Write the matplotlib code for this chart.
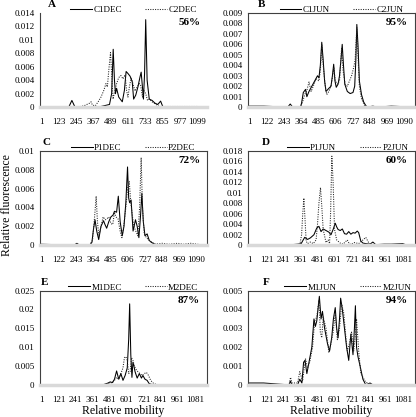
import matplotlib
matplotlib.use('Agg')
import matplotlib.pyplot as plt
from matplotlib.ticker import FuncFormatter

plt.rcParams['font.family'] = ['Liberation Serif', 'DejaVu Serif']

# パネルA (C1DEC / C2DEC)
a_x1 = [1, 150, 195, 215, 235, 300, 400, 460, 480, 495, 506, 515, 522, 530, 545, 570, 585, 597, 610, 625, 640, 650, 665, 680, 695, 703, 712, 719, 727, 735, 745, 760, 780, 800, 820, 840, 855, 900, 1000, 1160]
a_y1 = [0, 0, 0.0001, 0.001, 0.0001, 0, 0, 0.0003, 0.0004, 0.002, 0.0086, 0.004, 0.002, 0.0028, 0.0015, 0.0008, 0.0025, 0.0053, 0.005, 0.0046, 0.0038, 0.0012, 0.0018, 0.003, 0.0045, 0.0052, 0.003, 0.0012, 0.005, 0.013, 0.004, 0.0012, 0.001, 0.0006, 0.0004, 0.0009, 0.0001, 0, 0, 0]
a_x2 = [1, 250, 300, 340, 350, 360, 380, 400, 420, 440, 455, 465, 475, 487, 495, 505, 515, 530, 545, 560, 575, 590, 600, 610, 620, 632, 645, 660, 675, 690, 700, 712, 722, 735, 748, 760, 780, 800, 830, 900, 1000, 1100, 1160]
a_y2 = [0, 0, 0.0002, 0.0006, 0.0008, 0.0003, 0.0002, 0.0008, 0.0015, 0.0025, 0.0035, 0.003, 0.0055, 0.0081, 0.005, 0.0012, 0.0022, 0.0035, 0.0044, 0.0047, 0.0042, 0.0048, 0.0025, 0.0015, 0.003, 0.0043, 0.0035, 0.0024, 0.003, 0.0035, 0.0032, 0.0015, 0.0025, 0.002, 0.001, 0.0012, 0.0008, 0.0005, 0.0001, 0.0001, 0.0001, 0.0001, 0]

# パネルB (C1JUN / C2JUN)
b_x1 = [1, 100, 270, 288, 305, 360, 368, 380, 396, 405, 420, 440, 460, 480, 490, 500, 510, 520, 530, 540, 560, 575, 585, 594, 603, 612, 625, 635, 645, 654, 663, 672, 690, 710, 730, 742, 750, 757, 765, 775, 790, 805, 818, 830, 870, 900, 1000, 1160]
b_y1 = [0.0001, 0.0001, 0, 0.0003, 0, 0, 0.0004, 0.0014, 0.0017, 0.001, 0.0015, 0.002, 0.0025, 0.003, 0.0028, 0.004, 0.0062, 0.0045, 0.0025, 0.0015, 0.0018, 0.002, 0.003, 0.0041, 0.0025, 0.0019, 0.0022, 0.003, 0.0045, 0.006, 0.004, 0.0022, 0.0015, 0.0013, 0.0014, 0.002, 0.0045, 0.0079, 0.006, 0.0025, 0.0012, 0.0005, 0.0002, 0, 0.0001, 0, 0.0001, 0]
b_x2 = [1, 360, 375, 390, 405, 420, 435, 450, 470, 490, 500, 510, 520, 535, 545, 560, 575, 585, 595, 605, 620, 635, 650, 660, 675, 690, 705, 720, 735, 745, 757, 765, 775, 790, 810, 830, 1160]
b_y2 = [0, 0, 0.0005, 0.0012, 0.0016, 0.0024, 0.0015, 0.002, 0.0027, 0.0025, 0.0035, 0.006, 0.004, 0.002, 0.0012, 0.0015, 0.002, 0.0028, 0.0038, 0.0025, 0.0022, 0.0025, 0.0057, 0.0035, 0.0022, 0.002, 0.0025, 0.003, 0.0038, 0.0045, 0.0076, 0.005, 0.002, 0.0008, 0.0002, 0, 0]

# パネルC (P1DEC / P2DEC)
c_x1 = [1, 230, 250, 270, 340, 356, 368, 378, 390, 404, 420, 438, 448, 460, 475, 490, 505, 515, 530, 542, 555, 570, 582, 595, 607, 615, 622, 632, 646, 663, 675, 687, 698, 708, 718, 730, 745, 760, 775, 800, 850, 1000, 1160]
c_y1 = [0.0001, 0, 0.0002, 0, 0, 0.0003, 0.0018, 0.0027, 0.0015, 0.0006, 0.002, 0.0026, 0.0022, 0.0018, 0.0025, 0.003, 0.0032, 0.0036, 0.0035, 0.0052, 0.0025, 0.001, 0.002, 0.0045, 0.0083, 0.005, 0.0045, 0.0048, 0.0015, 0.0027, 0.002, 0.0008, 0.003, 0.0055, 0.0025, 0.001, 0.0012, 0.0005, 0.0003, 0.0001, 0, 0, 0]
c_x2 = [1, 340, 360, 375, 386, 395, 405, 420, 435, 450, 462, 475, 490, 503, 515, 525, 540, 555, 567, 580, 595, 607, 619, 630, 642, 652, 665, 680, 692, 703, 712, 725, 740, 760, 780, 800, 850, 900, 960, 1000, 1050, 1100, 1160]
c_y2 = [0, 0, 0.0005, 0.003, 0.0052, 0.0025, 0.001, 0.002, 0.003, 0.0027, 0.0028, 0.003, 0.0023, 0.0022, 0.0035, 0.003, 0.0028, 0.0015, 0.0008, 0.002, 0.004, 0.006, 0.0068, 0.0045, 0.003, 0.002, 0.0015, 0.001, 0.004, 0.0093, 0.004, 0.0012, 0.0008, 0.0005, 0.0003, 0.0001, 0.0002, 0.0001, 0.0002, 0.0001, 0.0002, 0.0001, 0]

# パネルD (P1JUN / P2JUN)
d_x1 = [1, 300, 340, 365, 375, 390, 400, 410, 430, 455, 475, 490, 505, 520, 540, 560, 575, 590, 605, 615, 625, 640, 655, 670, 685, 700, 715, 730, 745, 760, 770, 785, 800, 820, 850, 870, 890, 950, 1000, 1080, 1100, 1160]
d_y1 = [0, 0.0001, 0.0002, 0.0003, 0.0008, 0.0015, 0.0013, 0.0011, 0.0014, 0.002, 0.0033, 0.0036, 0.0026, 0.0031, 0.0028, 0.0025, 0.002, 0.003, 0.0042, 0.0035, 0.003, 0.0028, 0.0031, 0.0022, 0.0021, 0.0026, 0.0021, 0.0024, 0.0023, 0.0027, 0.0024, 0.0008, 0.0004, 0.0003, 0.0002, 0.0006, 0.0001, 0.0002, 0.0002, 0.0003, 0.0001, 0]
d_x2 = [1, 355, 368, 376, 384, 392, 400, 410, 430, 450, 470, 480, 490, 501, 510, 520, 540, 555, 565, 572, 581, 590, 600, 615, 640, 660, 690, 705, 720, 740, 770, 800, 820, 840, 860, 900, 1000, 1160]
d_y2 = [0, 0, 0.002, 0.006, 0.009, 0.005, 0.0008, 0.0003, 0.0006, 0.0003, 0.001, 0.004, 0.008, 0.011, 0.0075, 0.003, 0.0005, 0.001, 0.0003, 0.006, 0.017, 0.012, 0.003, 0.001, 0.0004, 0.0002, 0.001, 0.0002, 0.0002, 0.0005, 0.0003, 0.001, 0.0015, 0.0005, 0, 0, 0, 0]

# パネルE (M1DEC / M2DEC)
e_x1 = [1, 200, 440, 470, 485, 500, 515, 530, 545, 560, 575, 590, 605, 615, 622, 630, 638, 645, 652, 660, 675, 690, 705, 715, 730, 745, 760, 780, 820, 1160]
e_y1 = [0, 0.0001, 0.0001, 0.0005, 0.0008, 0.0006, 0.0015, 0.0037, 0.0015, 0.003, 0.0012, 0.0025, 0.0045, 0.012, 0.0215, 0.008, 0.002, 0.006, 0.005, 0.0035, 0.0018, 0.003, 0.0018, 0.0025, 0.0015, 0.0012, 0.0003, 0.0001, 0, 0]
e_x2 = [1, 450, 480, 500, 515, 530, 545, 560, 575, 585, 595, 605, 615, 625, 635, 645, 655, 665, 680, 695, 710, 725, 740, 755, 770, 790, 810, 1160]
e_y2 = [0, 0.0001, 0.0005, 0.0006, 0.0012, 0.002, 0.0015, 0.003, 0.0045, 0.0072, 0.0075, 0.0065, 0.003, 0.0035, 0.0072, 0.0065, 0.005, 0.0042, 0.0035, 0.003, 0.0025, 0.003, 0.0033, 0.0025, 0.0012, 0.0004, 0.0001, 0]

# パネルF (M1JUN / M2JUN)
f_x1 = [1, 100, 280, 289, 300, 340, 355, 370, 382, 392, 405, 420, 440, 455, 465, 475, 493, 505, 515, 530, 550, 565, 580, 592, 605, 615, 625, 635, 643, 655, 670, 685, 700, 715, 730, 740, 747, 755, 765, 780, 800, 820, 850, 870, 1160]
f_y1 = [0.0001, 0.0001, 0, 0.0002, 0, 0, 0.0003, 0.0001, 0.0012, 0.0013, 0.0006, 0.0012, 0.002, 0.0035, 0.0031, 0.0034, 0.0047, 0.0035, 0.0039, 0.003, 0.0022, 0.0018, 0.0025, 0.0035, 0.0041, 0.003, 0.0025, 0.0035, 0.0046, 0.004, 0.003, 0.002, 0.0013, 0.0027, 0.0016, 0.003, 0.0042, 0.002, 0.0015, 0.001, 0.0003, 0, 0.0001, 0, 0]
f_x2 = [1, 280, 290, 300, 340, 355, 375, 385, 395, 410, 425, 445, 460, 475, 490, 500, 510, 520, 540, 560, 575, 590, 605, 620, 635, 650, 665, 680, 690, 705, 720, 735, 745, 755, 770, 785, 800, 815, 830, 850, 1160]
f_y2 = [0, 0, 0.0004, 0.0001, 0.0001, 0.0007, 0.0002, 0.0008, 0.0014, 0.0009, 0.0012, 0.002, 0.0034, 0.0036, 0.0045, 0.0028, 0.0025, 0.0036, 0.003, 0.0017, 0.0022, 0.0028, 0.0038, 0.0024, 0.003, 0.0043, 0.0038, 0.0025, 0.0018, 0.0022, 0.0028, 0.0018, 0.0025, 0.0035, 0.0018, 0.0006, 0.0004, 0.0002, 0.0001, 0, 0]

letters = ['A', 'B', 'C', 'D', 'E', 'F']
names = [('C1DEC', 'C2DEC'), ('C1JUN', 'C2JUN'), ('P1DEC', 'P2DEC'),
         ('P1JUN', 'P2JUN'), ('M1DEC', 'M2DEC'), ('M1JUN', 'M2JUN')]
percents = ['56%', '95%', '72%', '60%', '87%', '94%']
xsteps = [122, 121, 121, 120, 120, 120]
ymax = [0.014, 0.009, 0.01, 0.018, 0.025, 0.005]
ystep = [0.002, 0.001, 0.002, 0.002, 0.005, 0.001]
series = [(a_x1, a_y1, a_x2, a_y2), (b_x1, b_y1, b_x2, b_y2),
          (c_x1, c_y1, c_x2, c_y2), (d_x1, d_y1, d_x2, d_y2),
          (e_x1, e_y1, e_x2, e_y2), (f_x1, f_y1, f_x2, f_y2)]

# 軸の位置 (図の比率)
lefts = [0.096, 0.596]
bottoms = [0.743, 0.412, 0.077]
w, h = 0.401, 0.226
letter_x = [0.07, 0.08, 0.04, 0.11, 0.025, 0.11]
legend_x = [0.56, 0.56, 0.56, 0.6, 0.56, 0.6]

fig = plt.figure(figsize=(4.16, 4.17), dpi=100)

for i in range(6):
    ax = fig.add_axes([lefts[i % 2], bottoms[i // 2], w, h])
    x1, y1, x2, y2 = series[i]
    ax.plot(x1, y1, color='black', lw=0.75, label=names[i][0])
    ax.plot(x2, y2, color='#222222', lw=0.75, ls=(0, (1, 1.3)), label=names[i][1])

    ax.set_xlim(-10, 1165)
    ax.set_ylim(0, ymax[i])
    ticks = [1 + k * xsteps[i] for k in range(10)]
    ax.set_xticks(ticks)
    ax.set_xticklabels([str(t) for t in ticks], fontsize=6.5)
    n = int(round(ymax[i] / ystep[i]))
    ax.set_yticks([k * ystep[i] for k in range(n + 1)])
    ax.yaxis.set_major_formatter(FuncFormatter(lambda v, p: '%g' % round(v, 4)))
    ax.tick_params(length=0, labelsize=6.5, pad=4)
    ax.tick_params(axis='x', pad=8)

    # 枠線
    for s in ['top', 'right', 'left']:
        ax.spines[s].set_linewidth(0.8)
        ax.spines[s].set_color('#404040')
    ax.spines['bottom'].set_color('#d9d9d9')
    ax.spines['bottom'].set_linewidth(2.5)
    if i == 0:
        ax.spines['top'].set_visible(False)
        ax.spines['right'].set_visible(False)

    ax.text(0.96, 0.9, percents[i], transform=ax.transAxes, ha='right', va='center',
            fontsize=8, fontweight='bold')
    ax.text(letter_x[i], 1.09, letters[i], transform=ax.transAxes, ha='center', va='center',
            fontsize=8, fontweight='bold')
    ax.legend(loc='lower center', bbox_to_anchor=(legend_x[i], 0.99), ncol=2, frameon=False,
              fontsize=6.5, handlelength=2.4, columnspacing=2.6, handletextpad=0.15,
              borderaxespad=0, borderpad=0)

    if i >= 4:
        ax.set_xlabel('Relative mobility', fontsize=8.5, labelpad=1)

fig.text(0.017, 0.508, 'Relative fluorescence', rotation=90, ha='center', va='center', fontsize=8.5)

plt.savefig('out.png', dpi=100)
